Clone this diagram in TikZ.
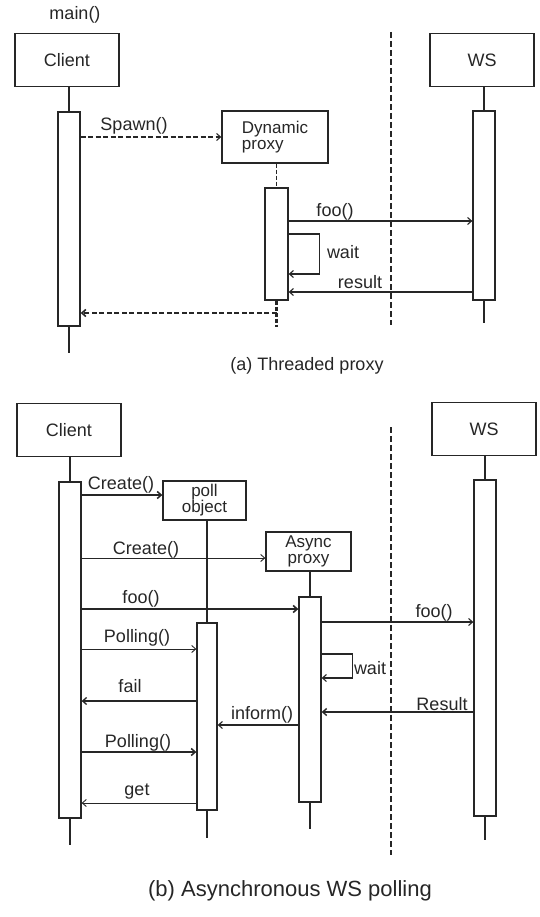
\documentclass[tikz,border=0pt]{standalone}
\usepackage{fontspec}
\setmainfont{Liberation Sans}
\usetikzlibrary{arrows.meta}
\begin{document}
\begin{tikzpicture}[x=1pt,y=-1pt,
  every node/.style={text=black!85},
  objbox/.style={draw=black!85,line width=1.3pt,minimum width=104pt,minimum height=53pt,font=\fontsize{18}{20}\selectfont},
  smallbox/.style={draw=black!85,line width=1.3pt,inner sep=0pt,align=center,font=\fontsize{17}{16}\selectfont},
  actbar/.style={draw=black!85,line width=1.3pt,minimum width=22pt,inner sep=0pt},
  life/.style={draw=black!85,line width=1.2pt},
  msg/.style={draw=black!85,line width=1.1pt,-{Straight Barb[length=4pt,width=7pt]}},
  lbl/.style={font=\fontsize{18}{18}\selectfont,inner sep=0pt},
  sep/.style={draw=black!85,line width=1.6pt,dash pattern=on 6pt off 3pt}]
\useasboundingbox (0,0) rectangle (540,917);

% (a) threaded proxy
\node[lbl] (mainLbl) at (75,15) {main()};
\node[objbox] (cliA) at (67,60) {Client};
\node[actbar,minimum height=214pt] (cliActA) at (69,219) {};
\coordinate (cliEndA) at (69,353);
\draw[life] (cliActA.north |- cliA.south) -- (cliActA.north);
\draw[life] (cliActA.south) -- (cliActA.south |- cliEndA);

\node[smallbox,minimum width=106pt,minimum height=52pt,align=left] (dynBox) at (275,137) {Dynamic\\proxy};
\node[actbar,minimum width=23pt,minimum height=112pt] (dynAct) at (276.5,244) {};
\coordinate (dynEnd) at (276.5,327);
\draw[life,dash pattern=on 4pt off 2pt] (dynAct.north |- dynBox.south) -- (dynAct.north);
\draw[draw=black!85,line width=2.2pt,dash pattern=on 4pt off 2pt] (dynAct.south) -- (dynEnd);

\node[objbox] (wsA) at (482,60) {WS};
\node[actbar,minimum height=189pt] (wsActA) at (484,205.5) {};
\coordinate (wsEndA) at (484,323);
\draw[life] (wsActA.north |- wsA.south) -- (wsActA.north);
\draw[life] (wsActA.south) -- (wsEndA);

\coordinate (sepTopA) at (391,32);
\coordinate (sepBotA) at (391,325);
\draw[sep] (sepTopA) -- (sepBotA);

\draw[msg,dash pattern=on 5pt off 2.5pt] (cliActA.east |- dynBox.west) -- (dynBox.west);
\node[lbl] (spawnLbl) at (134,126) {Spawn()};

\coordinate (yFooA) at (0,221);
\draw[msg] (dynAct.east |- yFooA) -- (wsActA.west |- yFooA);
\node[lbl] (fooLblA) at (335,212) {foo()};

\coordinate (yWaitA) at (0,234);
\draw[msg] (dynAct.east |- yWaitA) -- ++(31,0) -- ++(0,40) -- ++(-31,0);
\node[lbl] (waitLblA) at (343,252) {wait};

\coordinate (yResA) at (0,292);
\draw[msg] (wsActA.west |- yResA) -- (dynAct.east |- yResA);
\node[lbl] (resLblA) at (360,282) {result};

\coordinate (yRetA) at (0,313);
\draw[msg,line width=1.6pt,dash pattern=on 5pt off 2.5pt] (dynEnd |- yRetA) -- (cliActA.east |- yRetA);

\node[font=\fontsize{18}{20}\selectfont] (capA) at (307,366) {(a) Threaded proxy};

% (b) asynchronous polling
\node[objbox] (cliB) at (69,430) {Client};
\node[actbar,minimum height=336pt] (cliActB) at (70,650) {};
\coordinate (cliEndB) at (70,845);
\draw[life] (cliActB.north |- cliB.south) -- (cliActB.north);
\draw[life] (cliActB.south) -- (cliEndB);

\node[smallbox,minimum width=83pt,minimum height=39pt] (pollBox) at (204.5,500.5) {poll\\object};
\node[actbar,minimum width=20pt,minimum height=187pt] (pollAct) at (207,716.5) {};
\coordinate (pollEnd) at (207,838);
\draw[life] (pollAct.north |- pollBox.south) -- (pollAct.north);
\draw[life] (pollAct.south) -- (pollEnd);

\node[smallbox,minimum width=85pt,minimum height=39pt] (asyncBox) at (308.5,551.5) {Async\\proxy};
\node[actbar,minimum height=205pt] (asyncAct) at (310,699.5) {};
\coordinate (asyncEnd) at (310,829);
\draw[life] (asyncAct.north |- asyncBox.south) -- (asyncAct.north);
\draw[life] (asyncAct.south) -- (asyncEnd);

\node[objbox] (wsB) at (484,429) {WS};
\node[actbar,minimum height=336pt] (wsActB) at (485,648) {};
\coordinate (wsEndB) at (485,840);
\draw[life] (wsActB.north |- wsB.south) -- (wsActB.north);
\draw[life] (wsActB.south) -- (wsEndB);

\coordinate (sepTopB) at (391,427);
\coordinate (sepBotB) at (391,855);
\draw[sep] (sepTopB) -- (sepBotB);

\coordinate (yCreate1) at (0,495);
\draw[msg,line width=1.5pt] (cliActB.east |- yCreate1) -- (pollBox.west |- yCreate1);
\node[lbl] (create1Lbl) at (121,485) {Create()};

\coordinate (yCreate2) at (0,558);
\draw[msg,line width=0.9pt] (cliActB.east |- yCreate2) -- (asyncBox.west |- yCreate2);
\node[lbl] (create2Lbl) at (146,550) {Create()};

\coordinate (yFooB1) at (0,609);
\draw[msg,line width=1.6pt] (cliActB.east |- yFooB1) -- (asyncAct.west |- yFooB1);
\node[lbl] (fooLblB1) at (141,599) {foo()};

\coordinate (yFooB2) at (0,622);
\draw[msg] (asyncAct.east |- yFooB2) -- (wsActB.west |- yFooB2);
\node[lbl] (fooLblB2) at (434,613) {foo()};

\coordinate (yPoll1) at (0,649);
\draw[msg,line width=0.9pt] (cliActB.east |- yPoll1) -- (pollAct.west |- yPoll1);
\node[lbl] (poll1Lbl) at (137,638) {Polling()};

\coordinate (yWaitB) at (0,654);
\draw[msg] (asyncAct.east |- yWaitB) -- ++(31,0) -- ++(0,24) -- ++(-31,0);
\node[lbl] (waitLblB) at (370,668) {wait};

\coordinate (yFail) at (0,701);
\draw[msg,line width=1.3pt] (pollAct.west |- yFail) -- (cliActB.east |- yFail);
\node[lbl] (failLbl) at (130,686) {fail};

\coordinate (yResB) at (0,712);
\draw[msg,line width=1.4pt] (wsActB.west |- yResB) -- (asyncAct.east |- yResB);
\node[lbl] (resLblB) at (442,704) {Result};

\coordinate (yInform) at (0,725);
\draw[msg] (asyncAct.west |- yInform) -- (pollAct.east |- yInform);
\node[lbl] (informLbl) at (262,715) {inform()};

\coordinate (yPoll2) at (0,752);
\draw[msg,line width=1.5pt] (cliActB.east |- yPoll2) -- (pollAct.west |- yPoll2);
\node[lbl] (poll2Lbl) at (138,743) {Polling()};

\coordinate (yGet) at (0,803);
\draw[msg,line width=0.9pt] (pollAct.west |- yGet) -- (cliActB.east |- yGet);
\node[lbl] (getLbl) at (137,792) {get};

\node[font=\fontsize{22}{24}\selectfont] (capB) at (290,891) {(b) Asynchronous WS polling};
\end{tikzpicture}
\end{document}
